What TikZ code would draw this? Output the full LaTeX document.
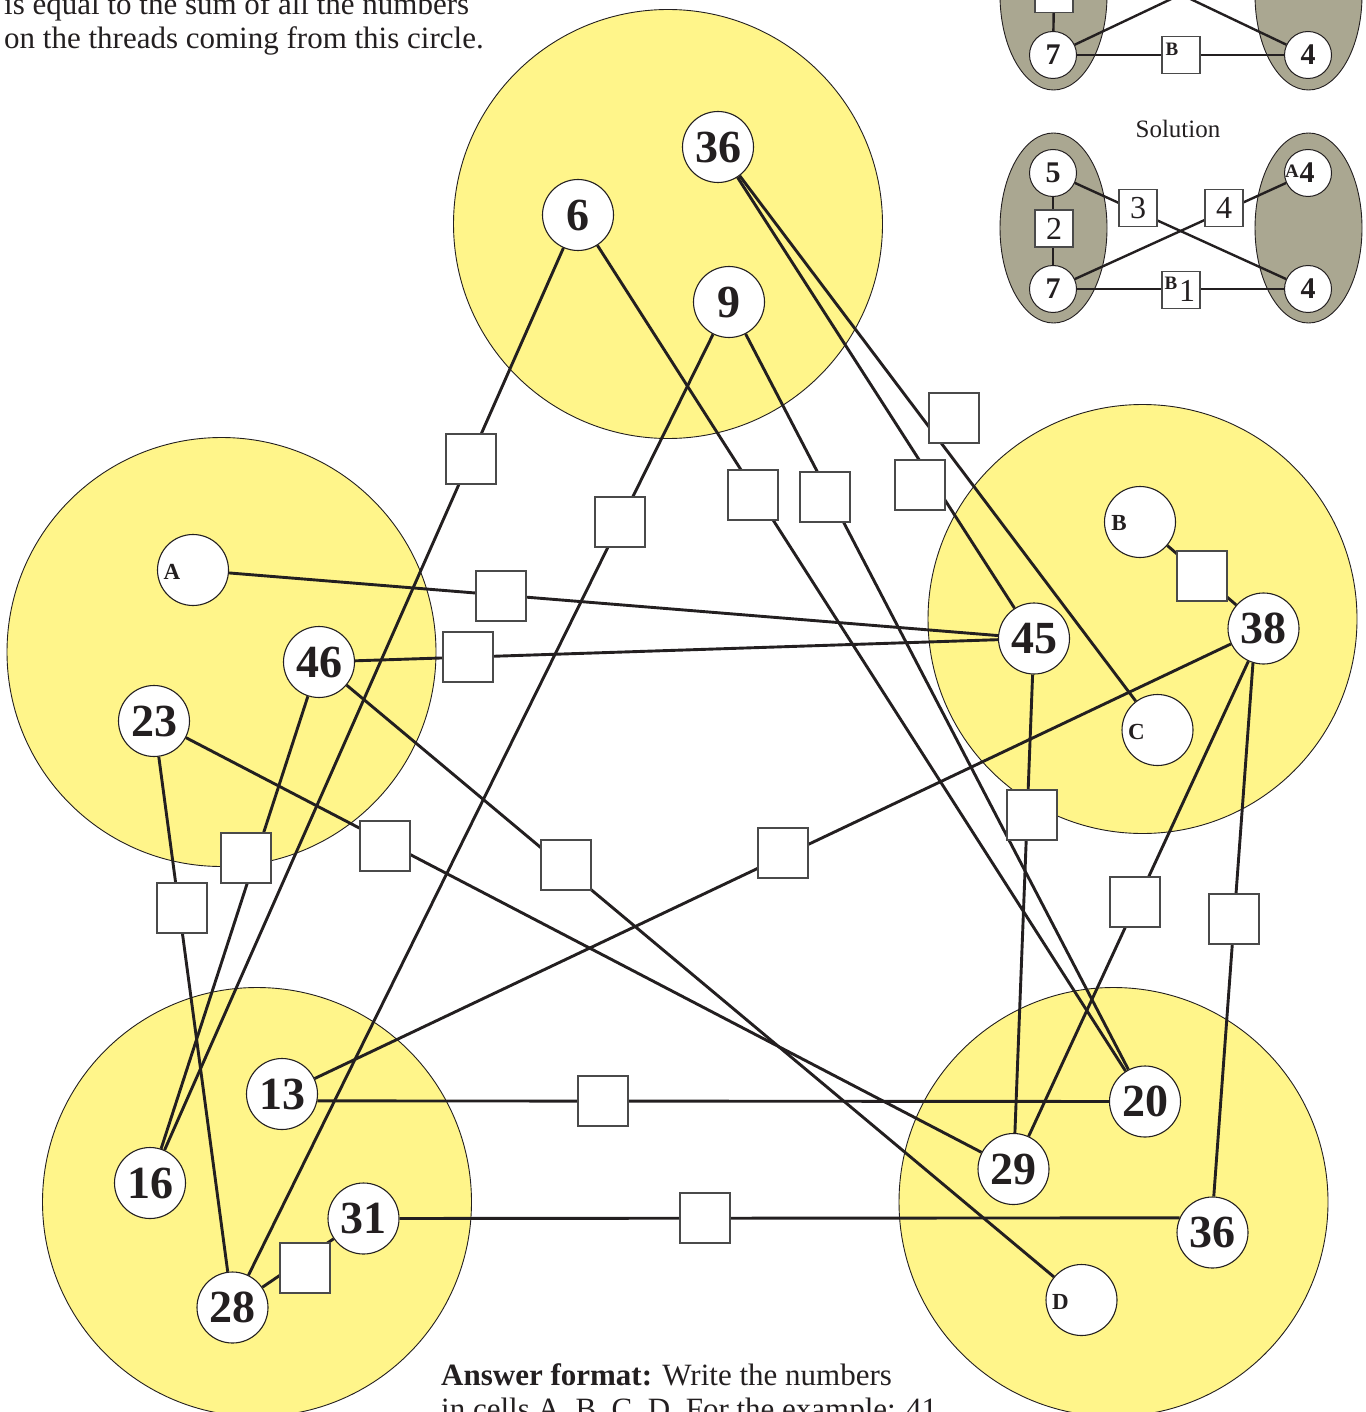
\documentclass[tikz,border=0pt]{standalone}
\usepackage{fontspec}
\setmainfont{Liberation Serif}
\usetikzlibrary{backgrounds}

\definecolor{ink}{HTML}{231F20}
\definecolor{disc}{HTML}{FFF58A}
\definecolor{oval}{HTML}{AAA791}
\definecolor{boxline}{HTML}{4A4A4A}

\tikzset{
  zone/.style={draw=ink, line width=0.9pt, fill=disc},
  num/.style={circle, draw=ink, line width=1.1pt, fill=white, minimum size=71pt,
    inner sep=0pt, text=ink, font=\fontsize{46}{46}\selectfont\bfseries},
  tag/.style={inner sep=0pt, text=ink, font=\fontsize{23}{23}\selectfont\bfseries},
  cell/.style={draw=boxline, line width=1.5pt, fill=white, minimum size=50pt, inner sep=0pt},
  thread/.style={draw=ink, line width=2.9pt},
  prose/.style={inner sep=0pt, anchor=base west, text=ink, font=\fontsize{31}{34}\selectfont},
  % small worked example
  ovalzone/.style={draw=ink, line width=0.9pt, fill=oval},
  exnum/.style={circle, draw=ink, line width=1pt, fill=white, minimum size=47pt,
    inner sep=0pt, text=ink, font=\fontsize{30}{30}\selectfont\bfseries},
  excell/.style={draw=boxline, line width=1.2pt, fill=white, minimum width=38pt,
    minimum height=37pt, inner sep=0pt, text=ink, font=\fontsize{32}{32}\selectfont},
  extag/.style={inner sep=0pt, text=ink, font=\fontsize{19}{19}\selectfont\bfseries},
  exdigit/.style={inner sep=0pt, text=ink, font=\fontsize{32}{32}\selectfont},
  exthread/.style={draw=ink, line width=2.4pt},
}

\begin{document}
\begin{tikzpicture}[x=1pt,y=-1pt]
\useasboundingbox (0,0) rectangle (1365,1412);

% ---------- yellow zones ----------
\begin{pgfonlayer}{background}
  \path[zone] (668,224)    circle[radius=214.5pt];
  \path[zone] (221.5,652)  circle[radius=214.5pt];
  \path[zone] (1142.5,619) circle[radius=214.5pt];
  \path[zone] (257,1202)   circle[radius=214.5pt];
  \path[zone] (1113.5,1202) circle[radius=214.5pt];
  % example ovals
  \path[ovalzone] (1053.5,-5)  ellipse[x radius=53.5pt, y radius=95pt];
  \path[ovalzone] (1308.5,-5)  ellipse[x radius=53.5pt, y radius=95pt];
  \path[ovalzone] (1053.5,228) ellipse[x radius=53.5pt, y radius=95pt];
  \path[ovalzone] (1308.5,228) ellipse[x radius=53.5pt, y radius=95pt];
\end{pgfonlayer}

% ---------- numbered circles ----------
\node[num] (t36) at (718,147)     {36};
\node[num] (n6)  at (578,215)     {6};
\node[num] (n9)  at (729,302)     {9};
\node[num] (nA)  at (193,570)     {};
\node[num] (n46) at (319,662)     {46};
\node[num] (n23) at (154,721)     {23};
\node[num] (nB)  at (1140,522)    {};
\node[num] (n38) at (1263.5,628.5){38};
\node[num] (n45) at (1034,638.5)  {45};
\node[num] (nC)  at (1157.5,730)  {};
\node[num] (n13) at (282,1094)    {13};
\node[num] (n16) at (150,1183)    {16};
\node[num] (n31) at (363.5,1218.5){31};
\node[num] (n28) at (232.5,1307.5){28};
\node[num] (n20) at (1145,1101.5) {20};
\node[num] (n29) at (1013.5,1169) {29};
\node[num] (b36) at (1212.5,1232.5){36};
\node[num] (nD)  at (1081.5,1300) {};

% letters of the cells to fill in
\node[tag] (labA) at ([shift={(-21,1.5)}]nA.center) {A};
\node[tag] (labB) at ([shift={(-21,1.5)}]nB.center) {B};
\node[tag] (labC) at ([shift={(-21,1.5)}]nC.center) {C};
\node[tag] (labD) at ([shift={(-21,1.5)}]nD.center) {D};

% ---------- empty squares on the threads ----------
\node[cell] (s1)  at (471,459)  {};
\node[cell] (s2)  at (620,522)  {};
\node[cell] (s3)  at (753,495)  {};
\node[cell] (s4)  at (825,497)  {};
\node[cell] (s5)  at (920,485)  {};
\node[cell] (s6)  at (954,418)  {};
\node[cell] (s7)  at (501,596)  {};
\node[cell] (s8)  at (468,657)  {};
\node[cell] (s9)  at (246,858)  {};
\node[cell] (s10) at (182,908)  {};
\node[cell] (s11) at (385,846)  {};
\node[cell] (s12) at (566,865)  {};
\node[cell] (s13) at (783,853)  {};
\node[cell] (s14) at (1202,576) {};
\node[cell] (s15) at (1032,815) {};
\node[cell] (s16) at (1135,902) {};
\node[cell] (s17) at (1234,919) {};
\node[cell] (s18) at (603,1101) {};
\node[cell] (s19) at (705,1218) {};
\node[cell] (s20) at (305,1268) {};

% ---------- threads ----------
\begin{pgfonlayer}{background}
  \draw[thread] (t36) -- (n45);
  \draw[thread] (t36) -- (nC);
  \draw[thread] (n6)  -- (n16);
  \draw[thread] (n6)  -- (n20);
  \draw[thread] (n9)  -- (n28);
  \draw[thread] (n9)  -- (n20);
  \draw[thread] (nA)  -- (n45);
  \draw[thread] (n46) -- (n45);
  \draw[thread] (n46) -- (n16);
  \draw[thread] (n46) -- (nD);
  \draw[thread] (n23) -- (n28);
  \draw[thread] (n23) -- (n29);
  \draw[thread] (nB)  -- (n38);
  \draw[thread] (n38) -- (n13);
  \draw[thread] (n38) -- (n29);
  \draw[thread] (n38.-107) -- (b36.88);
  \draw[thread] (n45) -- (n29);
  \draw[thread] (n13.-11) -- (n20);
  \draw[thread] (n31) -- (b36.156);
  \draw[thread] (n28) -- (n31);
\end{pgfonlayer}

% ---------- worked example (upper, partly off the page) ----------
\node[exnum]  (e7) at (1053,55)  {7};
\node[exnum]  (e4) at (1308,55)  {4};
\node[excell] (eB) at (1181,55)  {};
\node[extag]  (eBl) at ([shift={(-9,-6)}]eB.center) {B};
\node[excell] (e2) at (1054,-6)  {};
\coordinate (e3) at (1138,-26);
\coordinate (e4s) at (1224,-26);
\begin{pgfonlayer}{background}
  \draw[exthread] (e7) -- (e4);
  \draw[exthread] (e2) -- (e7);
  \draw[exthread] (e7) -- (e4s);
  \draw[exthread] (e4) -- (e3);
\end{pgfonlayer}

% ---------- solution ----------
\node[inner sep=0pt, anchor=base, text=ink, font=\fontsize{25}{25}\selectfont] (head) at (1178,138) {Solution};
\node[exnum]  (f5)  at (1053,173) {5};
\node[exnum]  (f7)  at (1053,289) {7};
\node[exnum]  (fA)  at (1308,173) {};
\node[extag]  (fAl) at ([shift={(-16,-2)}]fA.center) {A};
\node[inner sep=0pt, text=ink, font=\fontsize{30}{30}\selectfont\bfseries] (fAn) at ([shift={(-1,0)}]fA.center) {4};
\node[exnum]  (f4)  at (1308,289) {4};
\node[excell] (f2)  at (1054,228.5) {2};
\node[excell] (f3)  at (1138,208) {3};
\node[excell] (f4s) at (1224,208) {4};
\node[excell] (fB)  at (1181,290) {};
\node[extag]  (fBl) at ([shift={(-10,-7)}]fB.center) {B};
\node[exdigit] (fBn) at ([shift={(6,1)}]fB.center) {1};
\begin{pgfonlayer}{background}
  \draw[exthread] (f5) -- (f7);
  \draw[exthread] (f5) -- (f4);
  \draw[exthread] (f7) -- (fA);
  \draw[exthread] (f7) -- (f4);
\end{pgfonlayer}

% ---------- texts ----------
\node[prose] (rule1) at (4,15) {is equal to the sum of all the numbers};
\node[prose] (rule2) at (4,49) {on the threads coming from this circle.};
\node[prose] (ans1) at (441,1385) {\textbf{Answer format:} Write the numbers};
\node[prose] (ans2) at (441,1419) {in cells A, B, C, D. For the example: 41};
\end{tikzpicture}
\end{document}
